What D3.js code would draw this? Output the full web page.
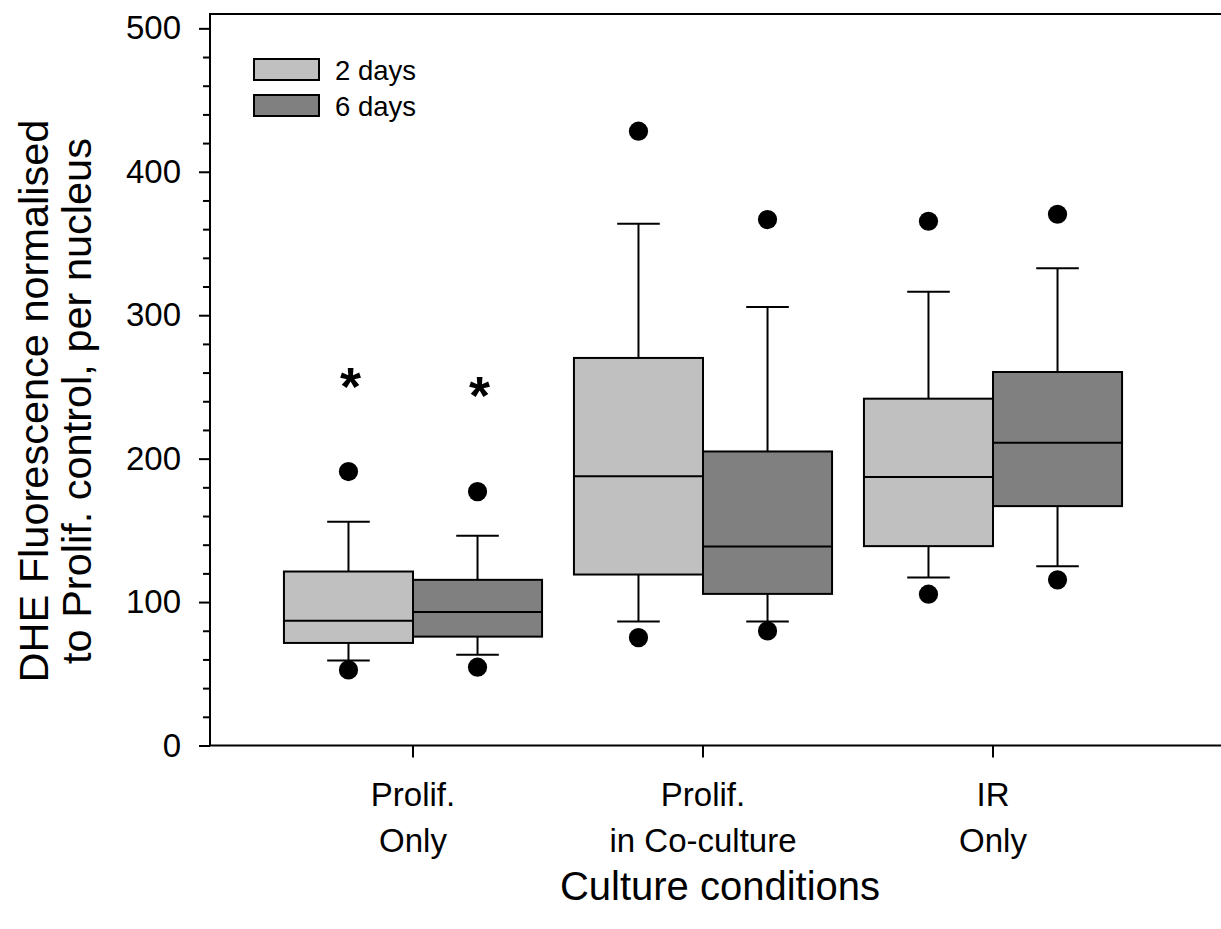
<!DOCTYPE html>
<html>
<head>
<meta charset="utf-8">
<script src="https://cdn.jsdelivr.net/npm/d3@7"></script>
<style>
  html, body { margin: 0; padding: 0; background: #fff; }
  svg { display: block; font-family: "Liberation Sans", Arial, sans-serif; }
</style>
</head>
<body>
<svg id="chart" width="1221" height="929"></svg>
<script>
// ---------- data ----------
const categories = ["Prolif. Only", "Prolif. in Co-culture", "IR Only"];
const categoryLines = [["Prolif.", "Only"], ["Prolif.", "in Co-culture"], ["IR", "Only"]];
const seriesNames = ["2 days", "6 days"];
const seriesColors = ["#c0c0c0", "#808080"];

// 2 days
const whiskerLow2 = [59.2, 86.4, 117.1];
const q1_2 = [71.5, 119.2, 139.0];
const median2 = [86.9, 187.8, 187.2];
const q3_2 = [121.3, 270.2, 241.8];
const whiskerHigh2 = [156.0, 363.7, 316.3];
const outlierLow2 = [52.7, 75.2, 105.5];
const outlierHigh2 = [191.0, 428.3, 365.5];

// 6 days
const whiskerLow6 = [63.2, 86.4, 125.0];
const q1_6 = [75.9, 105.7, 166.9];
const median6 = [93.0, 138.7, 211.1];
const q3_6 = [115.5, 205.0, 260.4];
const whiskerHigh6 = [146.2, 305.8, 332.7];
const outlierLow6 = [54.6, 79.9, 115.5];
const outlierHigh6 = [177.0, 366.7, 370.4];

// significance markers (value of the asterisk centre; null = none)
const star2 = [255, null, null];
const star6 = [249, null, null];

const yMajorTicks = [0, 100, 200, 300, 400, 500];
const yMinorTicks = [20, 40, 60, 80, 120, 140, 160, 180, 220, 240, 260, 280, 320, 340, 360, 380, 420, 440, 460, 480];
const yTitleLines = ["DHE Fluorescence normalised", "to Prolif. control, per nucleus"];
const xTitle = "Culture conditions";

(function () {
// ---------- build ----------
const W = 1221, H = 929;
const svg = d3.select("#chart");

const pLeft = 210, pRight = 1196, pTop = 14, pBottom = 745.5;

const x = d3.scaleBand().domain(categories).range([pLeft, pRight])
  .paddingInner(0.11).paddingOuter(0.255);
const xs = d3.scaleBand().domain(seriesNames).range([0, x.bandwidth()]);
const y = d3.scaleLinear().domain([0, 510]).range([pBottom, pTop]);

const groups = [
  { name: seriesNames[0], color: seriesColors[0], wl: whiskerLow2, q1: q1_2, med: median2, q3: q3_2, wh: whiskerHigh2, ol: outlierLow2, oh: outlierHigh2, star: star2 },
  { name: seriesNames[1], color: seriesColors[1], wl: whiskerLow6, q1: q1_6, med: median6, q3: q3_6, wh: whiskerHigh6, ol: outlierLow6, oh: outlierHigh6, star: star6 }
];

const boxes = [];
groups.forEach(g => categories.forEach((c, i) => boxes.push({
  cat: c, series: g.name, color: g.color,
  wl: g.wl[i], q1: g.q1[i], med: g.med[i], q3: g.q3[i], wh: g.wh[i],
  ol: g.ol[i], oh: g.oh[i], star: g.star[i]
})));

const bx = d => x(d.cat) + xs(d.series);
const bc = d => bx(d) + xs.bandwidth() / 2;
const capHalf = xs.bandwidth() * 0.165;

const lineStyle = sel => sel.attr("stroke", "#000").attr("stroke-width", 2);

// whiskers
const wg = svg.append("g");
boxes.forEach(d => {
  wg.append("line").attr("x1", bc(d)).attr("x2", bc(d)).attr("y1", y(d.q3)).attr("y2", y(d.wh)).call(lineStyle);
  wg.append("line").attr("x1", bc(d)).attr("x2", bc(d)).attr("y1", y(d.q1)).attr("y2", y(d.wl)).call(lineStyle);
  wg.append("line").attr("x1", bc(d) - capHalf).attr("x2", bc(d) + capHalf).attr("y1", y(d.wh)).attr("y2", y(d.wh)).call(lineStyle);
  wg.append("line").attr("x1", bc(d) - capHalf).attr("x2", bc(d) + capHalf).attr("y1", y(d.wl)).attr("y2", y(d.wl)).call(lineStyle);
});

// boxes
svg.append("g").selectAll("rect").data(boxes).join("rect")
  .attr("x", d => bx(d)).attr("width", xs.bandwidth())
  .attr("y", d => y(d.q3)).attr("height", d => y(d.q1) - y(d.q3))
  .attr("fill", d => d.color).attr("stroke", "#000").attr("stroke-width", 2);

// medians
svg.append("g").selectAll("line").data(boxes).join("line")
  .attr("x1", d => bx(d)).attr("x2", d => bx(d) + xs.bandwidth())
  .attr("y1", d => y(d.med)).attr("y2", d => y(d.med)).call(lineStyle);

// outliers
const outs = [];
boxes.forEach(d => { outs.push({ d, v: d.ol }); outs.push({ d, v: d.oh }); });
svg.append("g").selectAll("circle").data(outs).join("circle")
  .attr("cx", o => bc(o.d)).attr("cy", o => y(o.v)).attr("r", 9.6).attr("fill", "#000");

// significance asterisks
const starSize = 54;
svg.append("g").selectAll("text").data(boxes.filter(d => d.star != null)).join("text")
  .attr("x", d => bc(d) + 2).attr("y", d => y(d.star) + 0.47 * starSize)
  .attr("text-anchor", "middle").attr("font-size", starSize).attr("font-weight", "bold")
  .text("*");

// y axis (major)
const yAxis = svg.append("g").attr("transform", `translate(${pLeft},0)`)
  .call(d3.axisLeft(y).tickValues(yMajorTicks).tickSize(11).tickPadding(18).tickFormat(d3.format("d")));
yAxis.select(".domain").remove();
yAxis.selectAll("line").attr("stroke", "#000").attr("stroke-width", 2);
yAxis.selectAll("text").attr("font-size", 33).attr("fill", "#000")
  .attr("font-family", "Liberation Sans, Arial, sans-serif");

// y axis (minor)
const yMinor = svg.append("g").attr("transform", `translate(${pLeft},0)`)
  .call(d3.axisLeft(y).tickValues(yMinorTicks).tickSize(7).tickFormat(""));
yMinor.select(".domain").remove();
yMinor.selectAll("line").attr("stroke", "#000").attr("stroke-width", 2);

// frame lines: left axis, top
svg.append("line").attr("x1", pLeft).attr("x2", pLeft).attr("y1", y(510)).attr("y2", y(0)).call(lineStyle);
svg.append("line").attr("x1", pLeft - 1).attr("x2", W).attr("y1", y(510)).attr("y2", y(510)).call(lineStyle);

// x axis
const xAxis = svg.append("g").attr("transform", `translate(0,${pBottom})`)
  .call(d3.axisBottom(x).tickSize(12).tickFormat(""));
xAxis.select(".domain").remove();
xAxis.selectAll("line").attr("stroke", "#000").attr("stroke-width", 2);
svg.append("line").attr("x1", pLeft - 1).attr("x2", W).attr("y1", y(0)).attr("y2", y(0)).call(lineStyle);

// x tick labels (two lines)
const xl = svg.append("g");
categories.forEach((c, i) => {
  const t = xl.append("text").attr("text-anchor", "middle").attr("font-size", 33).attr("fill", "#000");
  categoryLines[i].forEach((ln, k) => {
    t.append("tspan").attr("x", x(c) + x.bandwidth() / 2).attr("y", 806 + k * 46).text(ln);
  });
});

// x title
svg.append("text").attr("x", 720).attr("y", 900).attr("text-anchor", "middle")
  .attr("font-size", 40).attr("fill", "#000").text(xTitle);

// y title
const yt = svg.append("text").attr("transform", "translate(0,401) rotate(-90)")
  .attr("text-anchor", "middle").attr("font-size", 41.5).attr("fill", "#000");
yTitleLines.forEach((ln, k) => yt.append("tspan").attr("x", 0).attr("y", 48 + k * 43).text(ln));

// legend
const lg = svg.append("g").attr("transform", "translate(254,59)");
seriesNames.forEach((s, i) => {
  lg.append("rect").attr("x", 0).attr("y", i * 36).attr("width", 65).attr("height", 21)
    .attr("fill", seriesColors[i]).attr("stroke", "#000").attr("stroke-width", 2);
  lg.append("text").attr("x", 81).attr("y", i * 36 + 20.5).attr("font-size", 27.5).attr("fill", "#000").text(s);
});
})();
</script>
</body>
</html>
